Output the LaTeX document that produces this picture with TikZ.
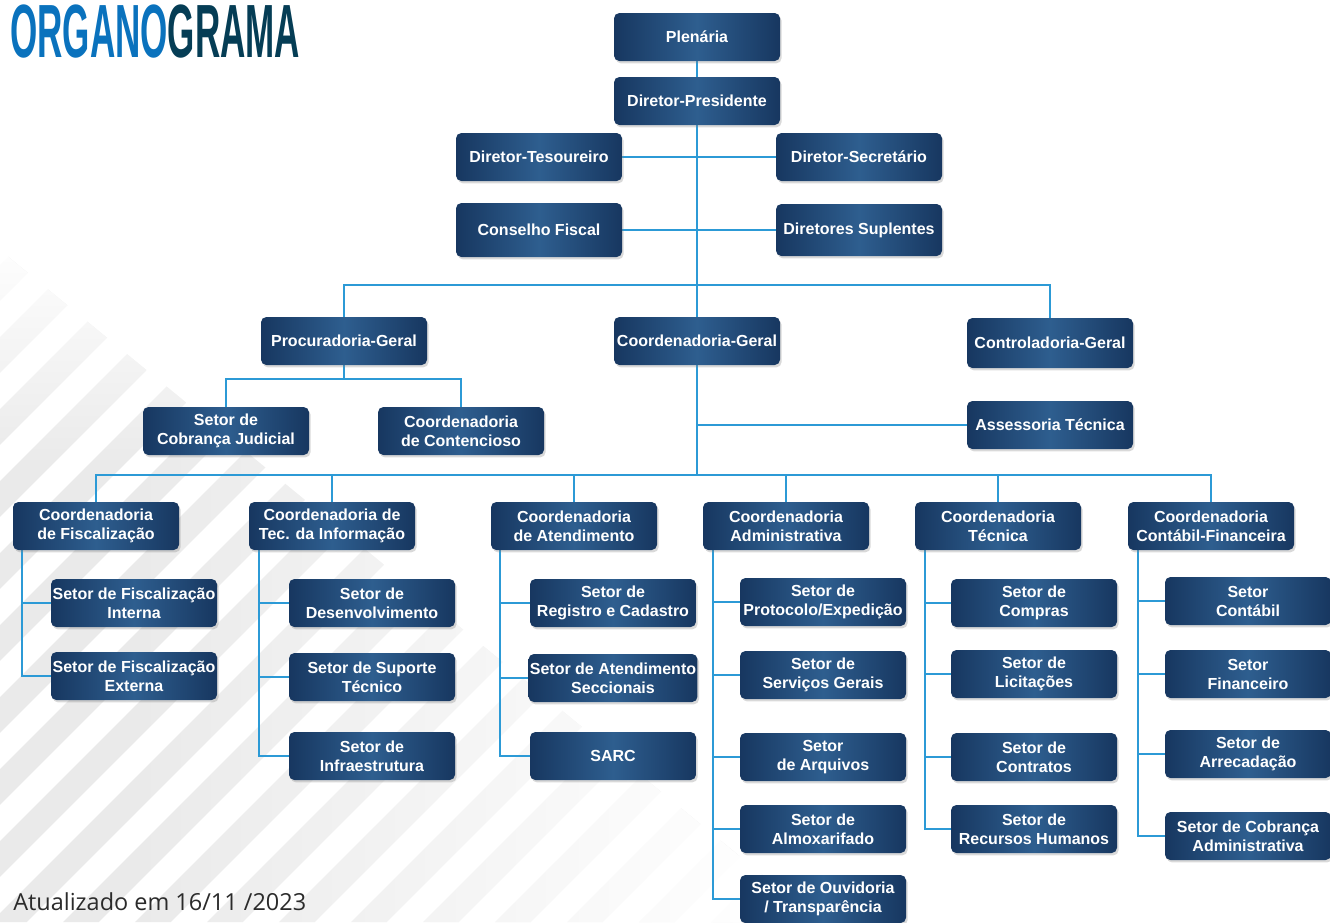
\documentclass[tikz,border=0pt]{standalone}
\usepackage{fontspec}
\setmainfont{Liberation Sans}
\newfontfamily\notefont{Open Sans}
\usetikzlibrary{shadows,fadings}
\pgfdeclarelayer{stripes}
\pgfdeclarelayer{links}
\pgfsetlayers{stripes,links,main}
\definecolor{boxdark}{HTML}{173760}
\definecolor{boxlight}{HTML}{2E5E8F}
\definecolor{conn}{HTML}{2C9AD6}
\definecolor{tblue}{HTML}{0A72BD}
\definecolor{tdark}{HTML}{053D55}
\definecolor{stripecol}{HTML}{EAEAEA}
\definecolor{notecol}{HTML}{2B2B2B}
\tikzset{
  orgbox/.style={rectangle, rounded corners=4pt, minimum width=124.5pt, minimum height=36pt,
    inner sep=1pt, align=center, text=white, font=\fontsize{12}{14.25}\selectfont\bfseries,
    left color=boxdark, right color=boxdark, middle color=boxlight,
    drop shadow={shadow xshift=1.2pt, shadow yshift=-1.8pt, opacity=0.3}},
  link/.style={draw=conn, line width=1.5pt},
  stripeline/.style={draw=stripecol, line width=19pt},
}
\begin{document}
\begin{tikzpicture}[x=0.75pt,y=-0.75pt]
\useasboundingbox (0,0) rectangle (1330,922);
% title and note
\node[anchor=north west, inner sep=0] (title) at (10,5)
  {\resizebox{217.5pt}{39.5pt}{\bfseries\color{tblue}ORGANO\color{tdark}GRAMA}};
\node[anchor=base west, inner sep=0, text=notecol, font=\notefont\fontsize{17.6}{20}\selectfont] (note) at (13,910) {Atualizado em 16/11 /2023};
% top
\node[orgbox] (plen) at (697,37) {Plenária};
\node[orgbox] (dp) at (697,101) {Diretor-Presidente};
\node[orgbox] (dt) at (539,157) {Diretor-Tesoureiro};
\node[orgbox] (ds) at (859,157) {Diretor-Secretário};
\node[orgbox, minimum height=40.5pt] (cf) at (539,230) {Conselho Fiscal};
\node[orgbox, minimum height=39pt] (dsup) at (859,230) {Diretores Suplentes};
\node[orgbox] (pg) at (344,341) {Procuradoria-Geral};
\node[orgbox] (cg) at (697,341) {Coordenadoria-Geral};
\node[orgbox, minimum height=37.5pt] (ctl) at (1050,343) {Controladoria-Geral};
\node[orgbox] (scj) at (226,431) {Setor de\\Cobrança Judicial};
\node[orgbox] (ccont) at (461,431) {Coordenadoria\\de Contencioso};
\node[orgbox] (ass) at (1050,425) {Assessoria Técnica};
% coordenadorias
\node[orgbox] (cfisc) at (96,526) {Coordenadoria\\de Fiscalização};
\node[orgbox] (cti) at (332,526) {Coordenadoria de\\Tec. da Informação};
\node[orgbox] (catd) at (574,526) {Coordenadoria\\de Atendimento};
\node[orgbox] (cadm) at (786,526) {Coordenadoria\\Administrativa};
\node[orgbox] (ctec) at (998,526) {Coordenadoria\\Técnica};
\node[orgbox] (ccf) at (1211,526) {Coordenadoria\\Contábil-Financeira};
% setores
\node[orgbox] (sf1) at (134,603) {Setor de Fiscalização\\Interna};
\node[orgbox] (sf2) at (134,676) {Setor de Fiscalização\\Externa};
\node[orgbox] (ti1) at (372,603) {Setor de\\Desenvolvimento};
\node[orgbox] (ti2) at (372,677) {Setor de Suporte\\Técnico};
\node[orgbox] (ti3) at (372,756) {Setor de\\Infraestrutura};
\node[orgbox] (at1) at (613,603) {Setor de\\Registro e Cadastro};
\node[orgbox] (at2) at (613,678) {Setor de Atendimento\\Seccionais};
\node[orgbox] (at3) at (613,756) {SARC};
\node[orgbox] (ad1) at (823,602) {Setor de\\Protocolo/Expedição};
\node[orgbox] (ad2) at (823,675) {Setor de\\Serviços Gerais};
\node[orgbox] (ad3) at (823,757) {Setor\\de Arquivos};
\node[orgbox] (ad4) at (823,829) {Setor de\\Almoxarifado};
\node[orgbox] (ad5) at (823,899) {Setor de Ouvidoria\\/ Transparência};
\node[orgbox] (te1) at (1034,603) {Setor de\\Compras};
\node[orgbox] (te2) at (1034,674) {Setor de\\Licitações};
\node[orgbox] (te3) at (1034,757) {Setor de\\Contratos};
\node[orgbox] (te4) at (1034,829) {Setor de\\Recursos Humanos};
\node[orgbox] (cf1) at (1248,601) {Setor\\Contábil};
\node[orgbox] (cf2) at (1248,674) {Setor\\Financeiro};
\node[orgbox] (cf3) at (1248,754) {Setor de\\Arrecadação};
\node[orgbox] (cf4) at (1248,836) {Setor de Cobrança\\Administrativa};
% helper coordinates
\coordinate (top) at (697,285);
\coordinate (bus) at (697,475);
\coordinate (pbus) at (344,379);
\coordinate (fs) at ([xshift=7pt]cfisc.south west);
\coordinate (ts) at ([xshift=8pt]cti.south west);
\coordinate (as) at ([xshift=7pt]catd.south west);
\coordinate (ms) at ([xshift=7.5pt]cadm.south west);
\coordinate (es) at ([xshift=7.5pt]ctec.south west);
\coordinate (ks) at ([xshift=7.5pt]ccf.south west);
\begin{pgfonlayer}{stripes}
  \begin{scope}
    \clip (0,250) -- (0,922) -- (820,922) -- cycle;
    \foreach \c in {211,283,...,1800} {
      \draw[stripeline] (\c+60,-60) -- (-60,\c+60);
    }
    % fade the stripes out towards the right and the top
    \fill[white, path fading=west] (120,240) rectangle (760,930);
    \fill[white] (760,240) rectangle (830,930);
    \fill[white, path fading=south] (-5,240) rectangle (830,470);
  \end{scope}
\end{pgfonlayer}
\begin{pgfonlayer}{links}
  \draw[link] (plen) -- (dp);
  \draw[link] (dp.south) -- (cg.north);
  \draw[link] (dt.east) -- (ds.west);
  \draw[link] (cf.east) -- (dsup.west);
  \draw[link] (pg.north) |- (ctl.north |- top) -- (ctl.north);
  \draw[link] (cg.south) -- (bus);
  \draw[link] (ass.west -| cg.south) -- (ass.west);
  \draw[link] (pg.south) -- (pbus);
  \draw[link] (scj.north) |- (ccont.north |- pbus) -- (ccont.north);
  \draw[link] (cfisc.north) |- (ccf.north |- bus) -- (ccf.north);
  \foreach \n in {cti,catd,cadm,ctec} { \draw[link] (\n.north) -- (\n.north |- bus); }
  % columns
  \draw[link] (fs) |- (sf2.west);
  \draw[link] (fs |- sf1.west) -- (sf1.west);
  \draw[link] (ts) |- (ti3.west);
  \foreach \n in {ti1,ti2} { \draw[link] (ts |- \n.west) -- (\n.west); }
  \draw[link] (as) |- (at3.west);
  \foreach \n in {at1,at2} { \draw[link] (as |- \n.west) -- (\n.west); }
  \draw[link] (ms) |- (ad5.west);
  \foreach \n in {ad1,ad2,ad3,ad4} { \draw[link] (ms |- \n.west) -- (\n.west); }
  \draw[link] (es) |- (te4.west);
  \foreach \n in {te1,te2,te3} { \draw[link] (es |- \n.west) -- (\n.west); }
  \draw[link] (ks) |- (cf4.west);
  \foreach \n in {cf1,cf2,cf3} { \draw[link] (ks |- \n.west) -- (\n.west); }
\end{pgfonlayer}
\end{tikzpicture}
\end{document}
